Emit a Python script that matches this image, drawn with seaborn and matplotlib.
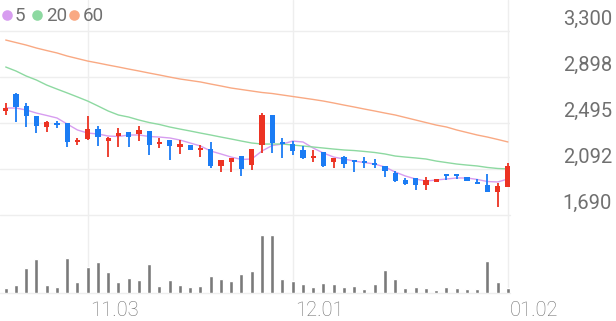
import numpy as np
import pandas as pd
import matplotlib
matplotlib.use("Agg")
import matplotlib.pyplot as plt
from matplotlib.transforms import blended_transform_factory, offset_copy
import seaborn as sns

# ---------------- data ----------------
opens  = [2600, 2750, 2645, 2555, 2460, 2495, 2495, 2330, 2355, 2440,
          2335, 2380, 2415, 2400, 2425, 2310, 2345, 2285, 2300, 2260,
          2265, 2120, 2155, 2205, 2125, 2300, 2565, 2330, 2310, 2260,
          2190, 2240, 2155, 2200, 2165, 2165, 2135, 2120, 2055, 1995,
          2015, 1955, 1980, 2040, 2050, 2020, 1980, 1950, 1890, 1935]
highs  = [2670, 2760, 2670, 2555, 2510, 2510, 2495, 2365, 2555, 2470,
          2370, 2450, 2415, 2470, 2425, 2365, 2345, 2345, 2300, 2300,
          2330, 2170, 2190, 2205, 2265, 2580, 2565, 2365, 2340, 2295,
          2260, 2240, 2190, 2205, 2165, 2195, 2180, 2120, 2075, 2015,
          2015, 2020, 2005, 2040, 2050, 2020, 2005, 2050, 1970, 2145]
lows   = [2565, 2505, 2460, 2405, 2415, 2450, 2285, 2300, 2345, 2295,
          2195, 2285, 2285, 2335, 2215, 2275, 2170, 2225, 2260, 2200,
          2100, 2065, 2065, 2030, 2085, 2230, 2230, 2190, 2215, 2180,
          2155, 2110, 2100, 2100, 2065, 2100, 2100, 2020, 1980, 1955,
          1910, 1910, 1980, 1995, 2005, 1985, 1960, 1890, 1760, 1935]
closes = [2625, 2635, 2555, 2470, 2505, 2475, 2330, 2345, 2440, 2370,
          2365, 2405, 2370, 2435, 2300, 2330, 2295, 2310, 2260, 2275,
          2120, 2170, 2190, 2090, 2265, 2565, 2320, 2310, 2250, 2190,
          2205, 2120, 2190, 2135, 2155, 2145, 2125, 2075, 1990, 1960,
          1955, 1995, 2005, 2030, 2030, 1990, 1960, 1890, 1945, 2120]
volumes = [5000, 8300, 25000, 34000, 8000, 5700, 35000, 11000, 26000, 31000,
           20700, 10700, 15000, 13300, 29000, 7500, 13300, 8000, 6000, 7000,
           16700, 14000, 12300, 19300, 21700, 57700, 57700, 14300, 12300, 8700,
           5700, 10000, 9000, 6000, 7300, 4300, 9000, 22700, 14000, 5000,
           5700, 4700, 3300, 6000, 4600, 4000, 4300, 31700, 11000, 4700]
ma5  = [2626, 2626, 2609, 2582, 2561, 2539, 2486, 2434, 2407, 2399,
        2381, 2377, 2390, 2390, 2377, 2372, 2364, 2346, 2320, 2294,
        2250, 2224, 2197, 2176, 2180, 2250, 2298, 2311, 2337, 2329,
        2276, 2232, 2197, 2180, 2162, 2149, 2136, 2110, 2066, 2031,
        2005, 1987, 1996, 2005, 2014, 2014, 2001, 1983, 1979, 2005]
ma20 = [2985, 2950, 2906, 2871, 2827, 2792, 2758, 2723, 2687, 2644,
        2600, 2565, 2547, 2521, 2499, 2482, 2460, 2442, 2425, 2407,
        2390, 2372, 2355, 2337, 2320, 2311, 2311, 2311, 2302, 2294,
        2285, 2276, 2267, 2259, 2254, 2246, 2237, 2224, 2206, 2197,
        2189, 2180, 2162, 2149, 2136, 2127, 2119, 2106, 2097, 2093]
ma60 = [3221, 3199, 3177, 3151, 3129, 3108, 3081, 3059, 3037, 3020,
        3002, 2985, 2967, 2950, 2932, 2915, 2897, 2880, 2867, 2854,
        2836, 2819, 2801, 2788, 2775, 2762, 2753, 2740, 2727, 2714,
        2701, 2687, 2670, 2652, 2635, 2617, 2600, 2582, 2565, 2543,
        2521, 2499, 2477, 2460, 2434, 2412, 2390, 2372, 2351, 2329]
ma_names = ["5", "20", "60"]
price_ticks = [3300, 2898, 2495, 2092, 1690]
price_labels = ["3,300", "2,898", "2,495", "2,092", "1,690"]
month_pos = [8, 28, 49]
month_labels = ["11.03", "12.01", "01.02"]

# ---------------- style ----------------
RED, BLUE = "#ec3323", "#1b7cf4"
MA_COLORS = {"5": "#d79df0", "20": "#8dd9a1", "60": "#f9a983"}
GRID = "#eeeeee"
TXT = "#707070"

sns.set_style("white")
plt.rcParams["font.family"] = ["Roboto", "DejaVu Sans"]

fig = plt.figure(figsize=(6.16, 3.21), dpi=100)
W, H = 616, 321
ax = fig.add_axes([0, (H - 215) / H, 510 / W, 215 / H])
axv = fig.add_axes([0, (H - 293) / H, 510 / W, 78 / H])

n = len(opens)
idx = np.arange(n)
xlim = (-0.556, 49.2)

# MA lines
df = pd.DataFrame({
    "idx": np.concatenate([idx, idx, idx]),
    "value": np.concatenate([ma5, ma20, ma60]),
    "ma": np.repeat(ma_names, n),
})
sns.lineplot(data=df, x="idx", y="value", hue="ma", palette=MA_COLORS,
             legend=False, ax=ax, linewidth=1.0, zorder=2)

# candles
o = np.array(opens); c = np.array(closes)
hi = np.array(highs); lo = np.array(lows)
cols = [RED if cc >= oo else BLUE for oo, cc in zip(o, c)]
ax.vlines(idx, lo, hi, colors=cols, linewidth=1.3, zorder=3)
body_h = np.maximum(np.abs(c - o), 16)
body_b = np.minimum(o, c)
ax.bar(idx, body_h, bottom=body_b, width=0.5, color=cols, zorder=4, linewidth=0)

ax.set_xlim(*xlim)
ax.set_ylim(1690, 3571.25)
for v in price_ticks[:-1]:
    ax.axhline(v, color=GRID, lw=1, zorder=0)
for p in month_pos:
    ax.axvline(p, color=GRID, lw=1, zorder=0)
ax.set_xticks([]); ax.set_yticks([])
ax.set_xlabel(""); ax.set_ylabel("")
for s in ax.spines.values():
    s.set_visible(False)

# volume
sns.barplot(x=idx, y=volumes, color="#7a7a7a", width=0.4, ax=axv,
            saturation=1, zorder=3)
axv.set_xlim(*xlim)
axv.set_ylim(0, 78000)
axv.axhline(78000, color=GRID, lw=1, zorder=0, clip_on=False)
axv.axhline(0, color=GRID, lw=1, zorder=1, clip_on=False)
for p in month_pos:
    axv.axvline(p, color=GRID, lw=1, zorder=0)
axv.set_xticks([]); axv.set_yticks([])
axv.set_xlabel(""); axv.set_ylabel("")
for s in axv.spines.values():
    s.set_visible(False)

# price labels on the right
tr = offset_copy(blended_transform_factory(fig.transFigure, ax.transData),
                 fig=fig, x=0, y=6, units="dots")
for v, lab in zip(price_ticks, price_labels):
    ax.text(612 / W, v, lab, transform=tr, ha="right", va="baseline",
            fontsize=14.5, color=TXT, clip_on=False)

# month labels
trm = offset_copy(blended_transform_factory(axv.transData, fig.transFigure),
                  fig=fig, x=2, y=0, units="dots")
for p, lab in zip(month_pos, month_labels):
    axv.text(p, (H - 316) / H, lab, transform=trm, ha="left", va="baseline",
             fontsize=14.5, color=TXT, fontweight="light", clip_on=False)

# legend
leg_circle_x = [7, 37, 74]
leg_text_x = [15, 46, 83]
for name, cx, tx in zip(ma_names, leg_circle_x, leg_text_x):
    ax.scatter([cx / W], [(H - 15) / H], s=58, color=MA_COLORS[name],
               transform=fig.transFigure, clip_on=False, linewidths=0, zorder=5)
    fig.text(tx / W, (H - 21) / H, name, ha="left", va="baseline",
             fontsize=13.5, color=TXT)

fig.savefig("out.png", dpi=100)
